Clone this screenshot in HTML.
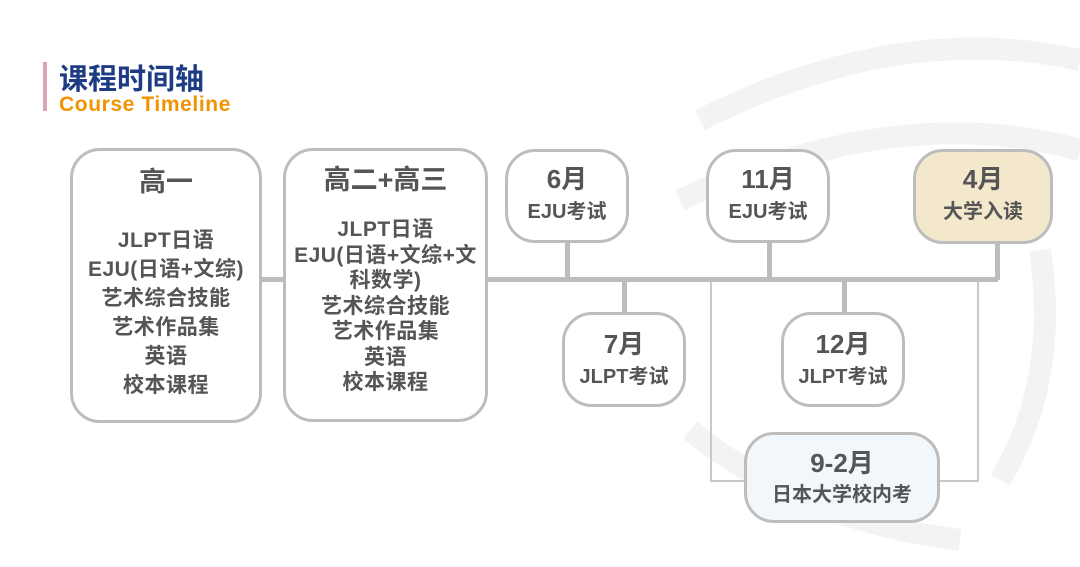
<!DOCTYPE html>
<html><head><meta charset="utf-8"><style>
body{margin:0;width:1080px;height:567px;position:relative;overflow:hidden;background:#fff;font-family:"Liberation Sans","Noto Sans CJK SC",sans-serif;}
.b{position:absolute;box-sizing:border-box;border:3px solid #bdbdbd;border-radius:30px;background:#fff;color:#555;font-weight:bold;text-align:center;}
.l{position:absolute;background:#bdbdbd;}
.t{position:absolute;left:0;right:0;text-align:center;white-space:nowrap;}
</style></head><body>
<svg style="position:absolute;left:0;top:0" width="1080" height="567">
<g fill="none" stroke="#f3f3f3" stroke-width="22">
<path d="M700 120 Q900 20 1080 60"/>
<path d="M680 200 Q900 100 1080 150"/>
<path d="M690 430 Q800 520 960 540"/>
<path d="M1000 480 Q1060 380 1040 250"/>
</g></svg>
<div style="position:absolute;left:43px;top:62px;width:4px;height:49px;background:#d9a5b1"></div>
<div style="position:absolute;left:59px;top:56px;font-size:29px;font-weight:bold;color:#1d3c84">课程时间轴</div>
<div style="position:absolute;left:59px;top:93px;font-size:21px;font-weight:bold;color:#f39200;letter-spacing:0.6px">Course Timeline</div>

<div class="l" style="left:258px;top:277px;width:740px;height:5px"></div>
<div class="l" style="left:565px;top:240px;width:5px;height:40px"></div>
<div class="l" style="left:767px;top:240px;width:5px;height:40px"></div>
<div class="l" style="left:995px;top:240px;width:5px;height:40px"></div>
<div class="l" style="left:622px;top:280px;width:5px;height:34px"></div>
<div class="l" style="left:842px;top:280px;width:5px;height:34px"></div>
<div style="position:absolute;left:710px;top:281px;width:265px;height:199px;border:2px solid #c8c8c8;border-top:none"></div>

<div class="b" style="left:70px;top:148px;width:192px;height:275px">
<div class="t" style="top:9px;font-size:27px">高一</div>
<div class="t" style="top:75px;font-size:21px;line-height:29px;letter-spacing:0.5px">JLPT日语<br>EJU(日语+文综)<br>艺术综合技能<br>艺术作品集<br>英语<br>校本课程</div></div>
<div class="b" style="left:283px;top:148px;width:205px;height:274px">
<div class="t" style="top:7px;font-size:27px">高二+高三</div>
<div class="t" style="top:66px;font-size:21px;line-height:25.5px;letter-spacing:0.5px">JLPT日语<br>EJU(日语+文综+文<br>科数学)<br>艺术综合技能<br>艺术作品集<br>英语<br>校本课程</div></div>

<div class="b" style="left:505px;top:149px;width:124px;height:94px"><div class="t" style="top:7px;font-size:26px">6月</div><div class="t" style="top:43px;font-size:20px">EJU考试</div></div>
<div class="b" style="left:706px;top:149px;width:124px;height:94px"><div class="t" style="top:7px;font-size:26px">11月</div><div class="t" style="top:43px;font-size:20px">EJU考试</div></div>
<div class="b" style="left:913px;top:149px;width:140px;height:95px;background:#f3e8cc"><div class="t" style="top:7px;font-size:26px">4月</div><div class="t" style="top:43px;font-size:20px">大学入读</div></div>
<div class="b" style="left:562px;top:312px;width:124px;height:95px"><div class="t" style="top:9px;font-size:26px">7月</div><div class="t" style="top:45px;font-size:20px">JLPT考试</div></div>
<div class="b" style="left:781px;top:312px;width:124px;height:95px"><div class="t" style="top:9px;font-size:26px">12月</div><div class="t" style="top:45px;font-size:20px">JLPT考试</div></div>
<div class="b" style="left:744px;top:432px;width:196px;height:91px;background:#f2f7fc"><div class="t" style="top:8px;font-size:26px">9-2月</div><div class="t" style="top:43px;font-size:20px">日本大学校内考</div></div>
</body></html>
